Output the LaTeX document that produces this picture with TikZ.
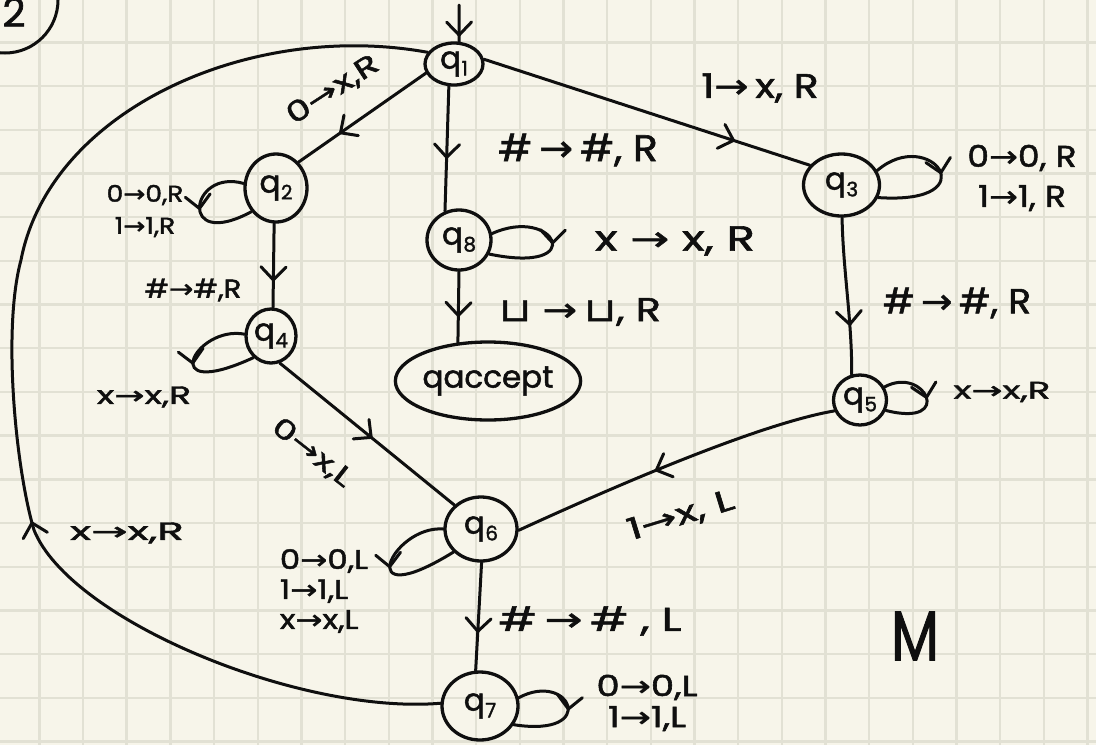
\documentclass[tikz,border=0pt]{standalone}
\usepackage{fontspec}
\setmainfont{Poppins}[FakeBold=1.6]
\newfontfamily\symf{DejaVu Sans}[FakeBold=1.2]
\usetikzlibrary{arrows.meta,decorations.markings,shapes.geometric}
\definecolor{bg}{RGB}{247,245,234}
\definecolor{gridc}{RGB}{226,225,212}
\definecolor{ink}{RGB}{15,15,15}
\newcommand\tto{{\symf →}}
\newcommand\blk{{\symf ⊔}}
\newcommand\stq[1]{q\kern0.5pt\raisebox{-0.4ex}{\fontsize{20}{20}\selectfont #1}}
\begin{document}
\begin{tikzpicture}[x=1pt,y=-1pt,
  st/.style={ellipse, draw=ink, line width=3.3pt, inner sep=0pt, text=ink, font=\fontsize{31}{32}\selectfont},
  ed/.style={draw=ink, line width=3pt, line cap=round},
  midarrow/.style={postaction={decorate}, decoration={markings, mark=at position #1 with {\arrow{Straight Barb[length=13pt,width=25pt,line width=3pt,round]}}}},
  lbl/.style 2 args={font=\fontsize{#1}{#2}\selectfont, inner sep=0pt, text=ink, align=center}]
\useasboundingbox (0,0) rectangle (1096,745);
\clip (0,0) rectangle (1096,745);
\fill[bg] (0,0) rectangle (1096,745);
\foreach \i in {0,...,24} \draw[gridc, line width=2.4pt] ({39.3+43.68*\i},0) -- ({39.3+43.68*\i},745);
\foreach \k in {0,...,16} \draw[gridc, line width=2.4pt] (0,{42.3+43.71*\k}) -- (1096,{42.3+43.71*\k});

% circled number
\node[circle, draw=ink, line width=3pt, minimum size=106pt] (mk) at (5,0) {};
\node[lbl={40}{40}] (two) at (14,12) {2};

% states
\node[st, minimum width=58pt, minimum height=42pt] (q1) at (454,64) {\stq{1}};
\node[st, minimum width=62pt, minimum height=68pt] (q2) at (276,188) {\stq{2}};
\node[st, minimum width=64pt, minimum height=60pt] (q8) at (459,240) {\stq{8}};
\node[st, minimum width=76pt, minimum height=62pt] (q3) at (841.5,185) {\stq{3}};
\node[st, minimum width=50pt, minimum height=54pt] (q4) at (271,336) {\stq{4}};
\node[st, minimum width=170pt, minimum height=78pt] (qa) at (488,381) {qaccept};
\node[st, minimum width=53pt, minimum height=50pt] (q5) at (860,400) {\stq{5}};
\node[st, minimum width=72pt, minimum height=64pt] (q6) at (481,529) {\stq{6}};
\node[st, minimum width=76pt, minimum height=68pt] (q7) at (480,706) {\stq{7}};

\coordinate (start) at (459,5);
\coordinate (w1) at (34,530);
\coordinate (w2) at (21,260);

% transitions
\draw[ed, midarrow=0.86] (start) -- (q1.77);
\draw[ed, midarrow=0.68] (q1.198) -- (q2.49);
\draw[ed, midarrow=0.58] (q1.257) -- (q8.116);
\draw[ed, midarrow=0.77] (q1.9) -- (q3.148);
\draw[ed, midarrow=0.64] (q8.-90) -- (qa.128);
\draw[ed, midarrow=0.69] (q2.-93) -- (q4.86);
\draw[ed, midarrow=0.69] (q3.-89) .. controls (843,270) and (852,320) .. (q5.108);
\draw[ed, midarrow=0.53] (q4.-72) -- (q6.138);
\draw[ed, midarrow=0.56] (q5.203) .. controls (770,422) and (650,470) .. (q6.-2);
\draw[ed, midarrow=0.65] (q6.-89) -- (q7.97);
\draw[ed, midarrow=0.38] (q7.176) .. controls (300,715) and (70,620) .. (w1)
   .. controls (16,470) and (2,330) .. (w2) .. controls (50,110) and (250,20) .. (q1.156);

% loops
\draw[ed, midarrow=0.5] (q2.172) .. controls (190,168) and (177,252) .. (q2.224);
\draw[ed, midarrow=0.5] (q8.11) .. controls (555,205) and (590,275) .. (q8.-25);
\draw[ed, midarrow=0.5] (q3.22) .. controls (930,125) and (990,205) .. (q3.-19);
\draw[ed, midarrow=0.5] (q4.176) .. controls (195,325) and (155,403) .. (q4.231);
\draw[ed, midarrow=0.5] (q5.28) .. controls (925,365) and (955,428) .. (q5.-22);
\draw[ed, midarrow=0.5] (q6.180) .. controls (392,525) and (350,616) .. (q6.220);
\draw[ed, midarrow=0.5] (q7.12) .. controls (570,670) and (600,738) .. (q7.-29);

% labels
\node[lbl={28}{28}, rotate=33, xscale=1.35] (l12) at (333,90) {0\tto x,R};
\node[lbl={37}{37}, xscale=1.1] (l18) at (578,150) {\#\,\tto\,\#, R};
\node[lbl={34}{34}, xscale=1.2] (l13) at (760,88) {1\tto\,x, R};
\node[lbl={30}{40}, xscale=1.15] (l33) at (1022,178) {0\tto 0, R\\1\tto 1, R};
\node[lbl={23}{32}, xscale=1.15] (l22) at (145,211) {0\tto 0,R\\1\tto 1,R};
\node[lbl={26}{26}, xscale=1.12] (l24) at (193,290) {\#\tto\#,R};
\node[lbl={35}{35}, xscale=1.33] (l88) at (675,241) {x\;\tto\;x,\;R};
\node[lbl={33}{33}, xscale=1.25] (l8a) at (580,312) {\blk\;\tto\,\blk,\;R};
\node[lbl={35}{35}, xscale=1.08] (l35) at (957,303) {\#\,\tto\,\#, R};
\node[lbl={25}{25}, xscale=1.45] (l44) at (144,397) {x\tto x,R};
\node[lbl={24}{24}, xscale=1.55] (l55) at (1002,392) {x\tto x,R};
\node[lbl={27}{27}, rotate=-38, xscale=1.35] (l46) at (312,453) {0\tto x,L};
\node[lbl={30}{30}, rotate=17, xscale=1.45] (l56) at (681,516) {1\tto x, L};
\node[lbl={27}{30}, align=left, xscale=1.2] (l66) at (324,591) {0\tto 0,L\\1\tto 1,L\\x\tto x,L};
\node[lbl={33}{33}, xscale=1.38] (l67) at (590,621) {\#\,\tto\,\# , L};
\node[lbl={29}{31}, xscale=1.28] (l77) at (647,703) {0\tto 0,L\\1\tto 1,L};
\node[lbl={25}{25}, xscale=1.75] (l71) at (127,533) {x\tto x,R};
\node[font=\fontsize{70}{70}\selectfont, xscale=0.8, inner sep=0pt, text=ink] (M) at (915,636) {M};
\end{tikzpicture}
\end{document}
